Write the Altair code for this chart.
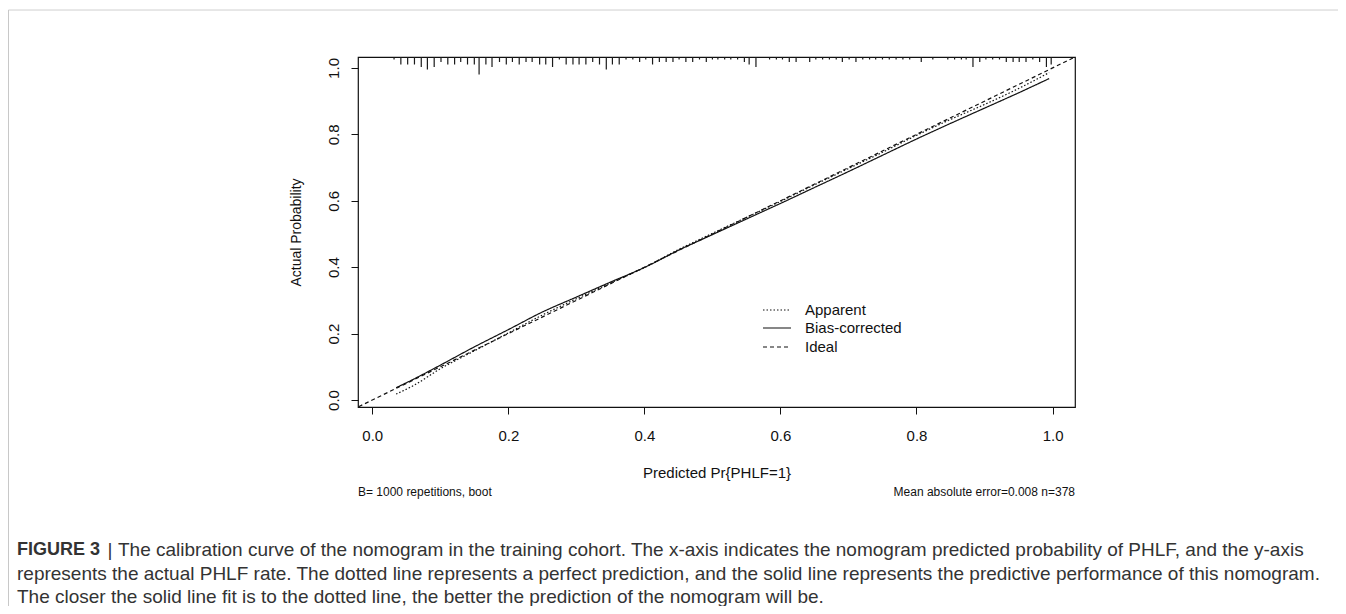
import altair as alt
import pandas as pd

# ---------------- data ----------------
pred = [0.035, 0.06, 0.10, 0.15, 0.20, 0.25, 0.30, 0.35, 0.40, 0.45, 0.50,
        0.55, 0.60, 0.65, 0.70, 0.75, 0.80, 0.85, 0.90, 0.95, 0.995]
actual_apparent = [0.018, 0.043, 0.094, 0.148, 0.202, 0.256, 0.305, 0.352, 0.399, 0.453, 0.502,
                   0.550, 0.598, 0.648, 0.697, 0.746, 0.797, 0.845, 0.890, 0.938, 0.986]
actual_corrected = [0.037, 0.062, 0.105, 0.160, 0.212, 0.265, 0.310, 0.355, 0.399, 0.451, 0.498,
                    0.545, 0.592, 0.640, 0.688, 0.737, 0.786, 0.833, 0.879, 0.925, 0.968]
ideal_x = [-0.02, 1.03]

rug_x = [0.032, 0.042, 0.052, 0.062, 0.072, 0.081, 0.091, 0.101, 0.111, 0.121, 0.130, 0.140,
         0.150, 0.157, 0.167, 0.176, 0.187, 0.197, 0.206, 0.216, 0.226, 0.235, 0.246, 0.255,
         0.265, 0.275, 0.285, 0.295, 0.304, 0.314, 0.324, 0.334, 0.344, 0.353, 0.363, 0.373,
         0.383, 0.393, 0.402, 0.412, 0.422, 0.432, 0.442, 0.451, 0.461, 0.471, 0.481, 0.491,
         0.500, 0.508, 0.518, 0.527, 0.537, 0.547, 0.554, 0.564, 0.584, 0.594, 0.603, 0.613,
         0.623, 0.643, 0.652, 0.662, 0.672, 0.682, 0.691, 0.701, 0.711, 0.721, 0.731, 0.740,
         0.750, 0.760, 0.770, 0.780, 0.790, 0.807, 0.824, 0.846, 0.856, 0.866, 0.873, 0.883,
         0.893, 0.902, 0.912, 0.922, 0.932, 0.942, 0.951, 0.961, 0.971, 0.981, 0.991, 0.998]
rug_n = [1, 3, 3, 3, 4, 5, 4, 2, 3, 3, 2, 3,
         3, 7, 3, 4, 2, 3, 2, 3, 2, 2, 3, 3,
         4, 1, 3, 3, 3, 3, 2, 3, 5, 3, 3, 1,
         1, 2, 1, 3, 2, 2, 2, 1, 2, 2, 1, 2,
         1, 1, 1, 1, 1, 2, 3, 4, 1, 1, 1, 2,
         2, 2, 1, 1, 1, 1, 2, 1, 2, 1, 1, 1,
         1, 1, 1, 1, 1, 2, 1, 1, 1, 1, 1, 4,
         2, 1, 1, 1, 2, 2, 2, 2, 1, 2, 4, 3]

series_names = ["Apparent", "Bias-corrected", "Ideal"]
x_ticks = [0.0, 0.2, 0.4, 0.6, 0.8, 1.0]
y_ticks = [0.0, 0.2, 0.4, 0.6, 0.8, 1.0]

caption_head = "FIGURE 3"
caption_l1 = "The calibration curve of the nomogram in the training cohort. The x-axis indicates the nomogram predicted probability of PHLF, and the y-axis"
caption_l2 = "represents the actual PHLF rate. The dotted line represents a perfect prediction, and the solid line represents the predictive performance of this nomogram."
caption_l3 = "The closer the solid line fit is to the dotted line, the better the prediction of the nomogram will be."

# ---------------- tables ----------------
rows = []
for px, py in zip(pred, actual_apparent):
    rows.append({"series": "Apparent", "x": px, "y": py})
for px, py in zip(pred, actual_corrected):
    rows.append({"series": "Bias-corrected", "x": px, "y": py})
for v in ideal_x:
    rows.append({"series": "Ideal", "x": v, "y": v})
df_lines = pd.DataFrame(rows)
df_rug = pd.DataFrame({"x": rug_x, "n": rug_n})

FONT = "Liberation Sans"
INK = "#111111"
W, H = 717, 350
TOTAL_W, TOTAL_H = 1330, 598
PAD_L, PAD_T = 350, 49

xs = alt.Scale(domain=[-0.021, 1.033], nice=False, zero=False)
ys = alt.Scale(domain=[-0.021, 1.033], nice=False, zero=False)

x_axis = alt.Axis(values=x_ticks, format=".1f", grid=False, domain=False,
                  tickSize=7, tickColor=INK, tickWidth=1,
                  labelFont=FONT, labelFontSize=15, labelColor=INK,
                  labelPadding=21, labelBaseline="middle", labelFlush=False,
                  title="Predicted Pr{PHLF=1}", titleFont=FONT, titleFontSize=15,
                  titleFontWeight="normal", titleColor=INK,
                  titleX=W / 2, titleY=65, titleAlign="center", titleBaseline="middle")
y_axis = alt.Axis(values=y_ticks, format=".1f", grid=False, domain=False,
                  tickSize=7, tickColor=INK, tickWidth=1,
                  labelFont=FONT, labelFontSize=15, labelColor=INK,
                  labelAngle=270, labelAlign="center", labelBaseline="middle",
                  labelPadding=18, labelFlush=False,
                  title="Actual Probability", titleFont=FONT, titleFontSize=14,
                  titleFontWeight="normal", titleColor=INK, titleAngle=270,
                  titleX=-62, titleY=H / 2, titleAlign="center", titleBaseline="middle")

lines = alt.Chart(df_lines).mark_line(color=INK, strokeWidth=1.2, clip=True,
                                      interpolate="monotone").encode(
    x=alt.X("x:Q", scale=xs, axis=x_axis),
    y=alt.Y("y:Q", scale=ys, axis=y_axis),
    strokeDash=alt.StrokeDash("series:N",
                              scale=alt.Scale(domain=series_names,
                                              range=[[1.5, 2], [1, 0], [4, 3]]),
                              legend=None),
)

rug = alt.Chart(df_rug).mark_rule(color="#1a1a1a", strokeWidth=1.2).encode(
    x=alt.X("x:Q", scale=xs, axis=x_axis),
    y=alt.Y("n:Q", scale=alt.Scale(domain=[0, 140], range=[0, H], nice=False, zero=False), axis=None),
    y2=alt.value(0),
)

ONE = alt.Data(values=[{}])


def txt(s, x, y, size, align="left", weight="normal", color=INK, angle=0):
    return alt.Chart(ONE).mark_text(text=s, align=align, baseline="middle", fontSize=size,
                                    font=FONT, fontWeight=weight, color=color,
                                    angle=angle).encode(x=alt.value(x), y=alt.value(y))


def seg(x1, x2, y1, y2, dash, color=INK, width=1.2):
    return alt.Chart(ONE).mark_rule(color=color, strokeWidth=width, strokeDash=dash).encode(
        x=alt.value(x1), x2=alt.value(x2), y=alt.value(y1), y2=alt.value(y2))


layers = [lines, rug]

# legend
leg_dash = [[1.5, 2], [1, 0], [4, 3]]
leg_y = [253, 271, 290]
for name, d, yy in zip(series_names, leg_dash, leg_y):
    layers.append(seg(405, 433, yy, yy, d))
    layers.append(txt(name, 447, yy, 15))

# footnotes of the plot
layers.append(txt("B= 1000 repetitions, boot", 0, 435, 12))
layers.append(txt("Mean absolute error=0.008 n=378", W, 435, 12, align="right"))

# frame of figure
FR = "#c8c8c8"
layers.append(seg(-PAD_L + 0.5, TOTAL_W - PAD_L, -47, -47, [1, 0], color=FR, width=1))
layers.append(seg(-PAD_L + 0.5, -PAD_L + 0.5, -47, TOTAL_H - PAD_T, [1, 0], color=FR, width=1))

# caption
CAP = "#333333"
CS = 19
layers.append(txt(caption_head, -341, 493, 18, weight="bold", color=CAP))
layers.append(txt("|", -248, 493, CS, align="center", color=CAP))
layers.append(txt(caption_l1, -240, 493, CS, color=CAP))
layers.append(txt(caption_l2, -341, 516.5, CS, color=CAP))
layers.append(txt(caption_l3, -341, 539.5, CS, color=CAP))

chart = alt.layer(*layers).resolve_scale(y="independent").properties(
    width=W, height=H,
    background="white",
    autosize=alt.AutoSizeParams(type="none"),
    padding={"left": PAD_L, "top": PAD_T, "right": TOTAL_W - PAD_L - W,
             "bottom": TOTAL_H - PAD_T - H},
).configure_view(stroke=INK, strokeWidth=1.2)

chart.save("out.html", embed_options={"renderer": "svg", "actions": False})
